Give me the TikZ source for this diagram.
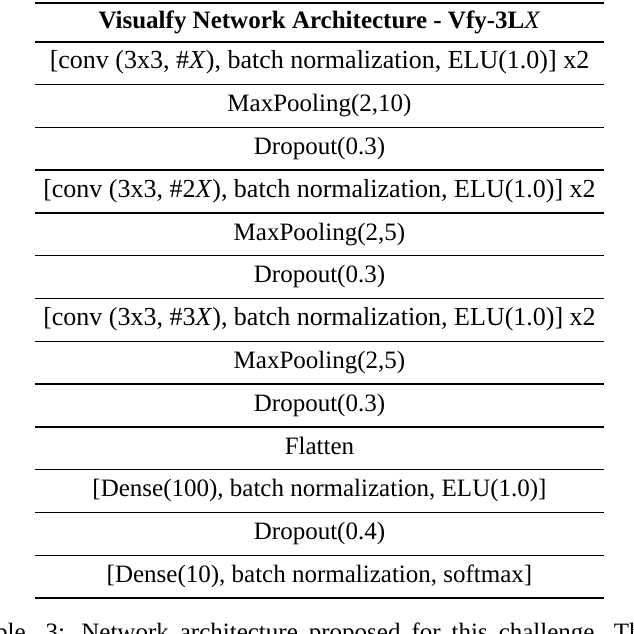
\documentclass[tikz,border=0pt]{standalone}
\usepackage{fontspec}
\setmainfont{Liberation Serif}
\usetikzlibrary{positioning}

\begin{document}
\begin{tikzpicture}[
    x=0.4pt, y=-0.4pt,
    cell/.style={font=\fontsize{10}{12}\selectfont, text height=6.8pt, text depth=2.2pt, inner sep=0pt},
    convcell/.style={cell, font=\fontsize{10.4}{12}\selectfont},
    headcell/.style={cell, font=\fontsize{10}{12}\selectfont\bfseries},
    capcell/.style={font=\fontsize{10}{12}\selectfont, anchor=base west, inner sep=0pt},
    thickrule/.style={line width=0.85pt},
    thinrule/.style={line width=0.5pt}
]
\useasboundingbox (0,0) rectangle (634,634);
\clip (0,0) rectangle (634,634);

\node[headcell] (head) at (319.5,22.4) {Visualfy Network Architecture - Vfy-3L\textmd{\textit{X}}};
\node[convcell] (conv1) at (319.5,63.1) {[conv (3x3, \#\textit{X}), batch normalization, ELU(1.0)] x2};
\node[cell] (pool1) at (319.5,105.9) {MaxPooling(2,10)};
\node[cell] (drop1) at (319.5,148.7) {Dropout(0.3)};
\node[convcell] (conv2) at (319.5,191.5) {[conv (3x3, \#2\textit{X}), batch normalization, ELU(1.0)] x2};
\node[cell] (pool2) at (319.5,234.3) {MaxPooling(2,5)};
\node[cell] (drop2) at (319.5,277.1) {Dropout(0.3)};
\node[convcell] (conv3) at (319.5,319.9) {[conv (3x3, \#3\textit{X}), batch normalization, ELU(1.0)] x2};
\node[cell] (pool3) at (319.5,362.7) {MaxPooling(2,5)};
\node[cell] (drop3) at (319.5,405.5) {Dropout(0.3)};
\node[cell] (flat) at (319.5,448.3) {Flatten};
\node[cell] (dense1) at (319.5,491.1) {[Dense(100), batch normalization, ELU(1.0)]};
\node[cell] (drop4) at (319.5,533.9) {Dropout(0.4)};
\node[cell] (dense2) at (319.5,576.7) {[Dense(10), batch normalization, softmax]};

% rules
\draw[thickrule] (35,3) -- (604,3);
\draw[thickrule] (35,41.7) -- (604,41.7);
\draw[thinrule] (35,84.5) -- (604,84.5);
\draw[thinrule] (35,127.3) -- (604,127.3);
\draw[thinrule] (35,170.1) -- (604,170.1);
\draw[thinrule] (35,212.9) -- (604,212.9);
\draw[thinrule] (35,255.7) -- (604,255.7);
\draw[thinrule] (35,298.5) -- (604,298.5);
\draw[thinrule] (35,341.3) -- (604,341.3);
\draw[thinrule] (35,384.1) -- (604,384.1);
\draw[thinrule] (35,426.9) -- (604,426.9);
\draw[thinrule] (35,469.7) -- (604,469.7);
\draw[thinrule] (35,512.5) -- (604,512.5);
\draw[thinrule] (35,555.3) -- (604,555.3);
\draw[thickrule] (35,598.1) -- (604,598.1);

% caption, cut off by the page edge
\node[capcell] (caption) at (-30,640) {\spaceskip=4.4pt\relax Table\hspace{8pt}3:\hspace{6.5pt}Network architecture proposed for this challenge. The};
\end{tikzpicture}
\end{document}
